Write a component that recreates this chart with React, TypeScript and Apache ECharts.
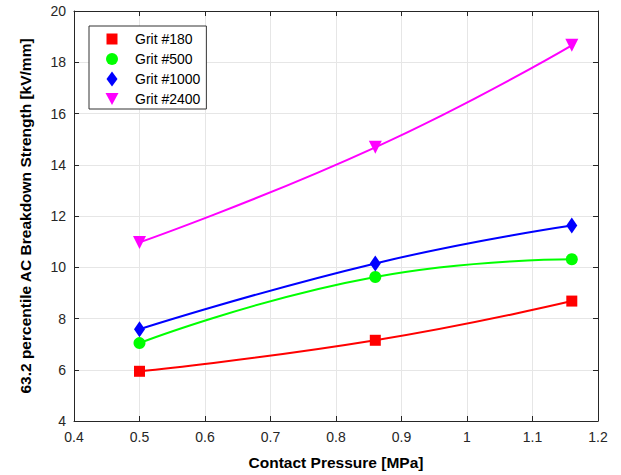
import React, { useEffect, useRef } from "react";
import * as echarts from "echarts";

const pressure = [0.5, 0.86, 1.16];
const grit180 = [5.94, 7.15, 8.68];
const grit500 = [7.04, 9.62, 10.31];
const grit1000 = [7.58, 10.15, 11.63];
const grit2400 = [10.97, 14.68, 18.66];

const seriesNames = ["Grit #180", "Grit #500", "Grit #1000", "Grit #2400"];
const seriesColors = ["#FF0000", "#00FF00", "#0000FF", "#FF00FF"];

const FONT = "'Liberation Sans', Arial, Helvetica, sans-serif";
const AXIS_COLOR = "#262626";

export default function App() {
  const ref = useRef<HTMLDivElement>(null);

  useEffect(() => {
    if (!ref.current) return;
    const chart = echarts.init(ref.current, undefined, { renderer: "svg" });

    const pairs = (ys: number[]) => pressure.map((x, i) => [x, ys[i]]);
    const fmt = (v: number) => String(Math.round(v * 10) / 10);

    const mkSeries = (
      name: string,
      color: string,
      ys: number[],
      symbol: string,
      symbolSize: number | number[],
      symbolRotate = 0
    ) => ({
      name,
      type: "line",
      data: pairs(ys),
      smooth: true,
      symbol,
      symbolSize,
      symbolRotate,
      showAllSymbol: true,
      lineStyle: { color, width: 2 },
      itemStyle: { color },
      emphasis: { disabled: true },
    });

    const baseX = {
      type: "value",
      min: 0.4,
      max: 1.2,
      interval: 0.1,
      axisLine: { show: true, onZero: false, lineStyle: { color: AXIS_COLOR, width: 1 } },
      axisTick: { show: true, inside: true, length: 5, lineStyle: { color: AXIS_COLOR } },
    };
    const baseY = {
      type: "value",
      min: 4,
      max: 20,
      interval: 2,
      axisLine: { show: true, onZero: false, lineStyle: { color: AXIS_COLOR, width: 1 } },
      axisTick: { show: true, inside: true, length: 5, lineStyle: { color: AXIS_COLOR } },
    };

    chart.setOption({
      animation: false,
      backgroundColor: "#ffffff",
      grid: { left: 74, right: 23, top: 11, bottom: 53, containLabel: false },
      legend: {
        orient: "vertical",
        left: 89,
        top: 26,
        padding: [5, 6, 2, 15],
        itemGap: 4,
        itemWidth: 16,
        itemHeight: 16,
        borderColor: "#333333",
        borderWidth: 1,
        backgroundColor: "#ffffff",
        selectedMode: false,
        textStyle: { fontFamily: FONT, fontSize: 14, color: "#000000", padding: [0, 0, 0, 10] },
        data: [
          { name: seriesNames[0], icon: "path://M0,0M16,16M2.5,2.5L13.5,2.5L13.5,13.5L2.5,13.5Z" },
          { name: seriesNames[1], icon: "path://M0,0M16,16M2,8A6,6 0 1,1 14,8A6,6 0 1,1 2,8Z" },
          { name: seriesNames[2], icon: "path://M0,0M16,16M2.5,8L8,0.5L13.5,8L8,15.5Z" },
          { name: seriesNames[3], icon: "path://M0,0M16,16M1.5,2L14.5,2L8,14Z" },
        ],
      },
      xAxis: [
        {
          ...baseX,
          position: "bottom",
          name: "Contact Pressure [MPa]",
          nameLocation: "middle",
          nameGap: 33,
          nameTextStyle: { fontFamily: FONT, fontSize: 15.5, fontWeight: "bold", color: "#000000" },
          axisLabel: { fontFamily: FONT, fontSize: 14, color: AXIS_COLOR, margin: 9, formatter: fmt },
          splitLine: { show: true, lineStyle: { color: "#e6e6e6", width: 1 } },
        },
        {
          ...baseX,
          position: "top",
          axisLabel: { show: false },
          splitLine: { show: false },
        },
      ],
      yAxis: [
        {
          ...baseY,
          position: "left",
          name: "63.2 percentile AC Breakdown Strength [kV/mm]",
          nameLocation: "middle",
          nameGap: 41,
          nameTextStyle: { fontFamily: FONT, fontSize: 15.5, fontWeight: "bold", color: "#000000" },
          axisLabel: { fontFamily: FONT, fontSize: 14, color: AXIS_COLOR, margin: 8 },
          splitLine: { show: true, lineStyle: { color: "#e6e6e6", width: 1 } },
        },
        {
          ...baseY,
          position: "right",
          axisLabel: { show: false },
          splitLine: { show: false },
        },
      ],
      series: [
        mkSeries(seriesNames[0], seriesColors[0], grit180, "rect", 11),
        mkSeries(seriesNames[1], seriesColors[1], grit500, "circle", 12),
        mkSeries(seriesNames[2], seriesColors[2], grit1000, "diamond", [11, 16]),
        mkSeries(seriesNames[3], seriesColors[3], grit2400, "triangle", 13, 180),
      ],
    });

    return () => chart.dispose();
  }, []);

  return (
    <div
      ref={ref}
      style={{ position: "absolute", left: 0, top: 0, width: 621, height: 475 }}
    />
  );
}
